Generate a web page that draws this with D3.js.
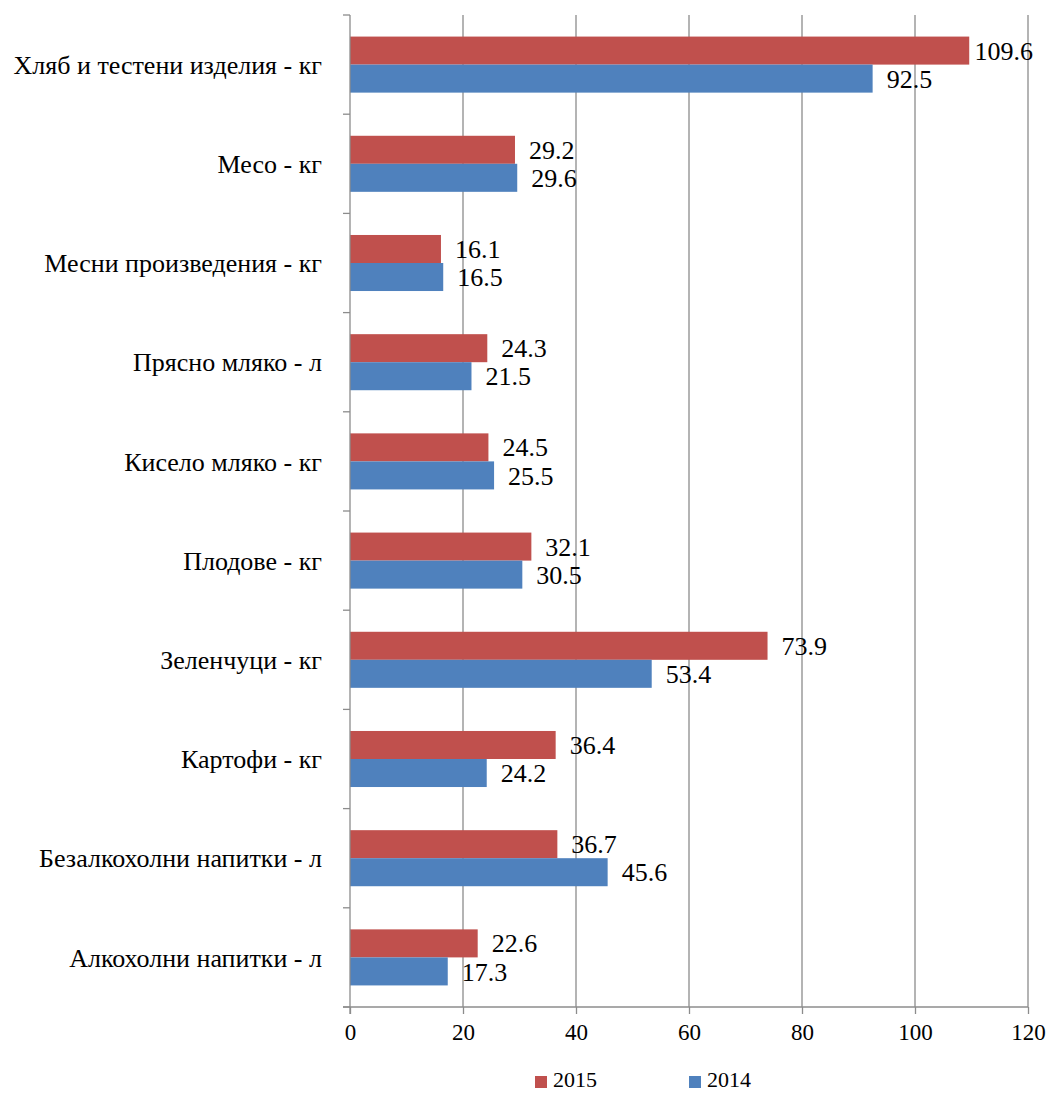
<!DOCTYPE html>
<html>
<head>
<meta charset="utf-8"/>
</head>
<body style="margin:0;background:#fff">
<script src="https://cdn.jsdelivr.net/npm/d3@7"></script>
<script>
var categories = ["Хляб и тестени изделия - кг", "Месо - кг", "Месни произведения  - кг",
  "Прясно мляко - л", "Кисело мляко - кг", "Плодове - кг", "Зеленчуци - кг",
  "Картофи - кг", "Безалкохолни напитки - л", "Алкохолни напитки - л"];
var series = ["2015", "2014"];
var values2015 = [109.6, 29.2, 16.1, 24.3, 24.5, 32.1, 73.9, 36.4, 36.7, 22.6];
var values2014 = [92.5, 29.6, 16.5, 21.5, 25.5, 30.5, 53.4, 24.2, 45.6, 17.3];
var xTicks = [0, 20, 40, 60, 80, 100, 120];
var colors = {"2015": "#c0504d", "2014": "#4f81bd"};

var width = 1050, height = 1093;
var plotL = 350, plotR = 1028, plotT = 15, plotB = 1007;
var serif = "'Liberation Serif'";

var svg = d3.select("body").append("svg")
  .attr("width", width).attr("height", height)
  .style("display", "block");

var x = d3.scaleLinear().domain([0, 120]).range([plotL, plotR]);
var y = d3.scaleBand().domain(categories).range([plotT, plotB]).paddingInner(0.435).paddingOuter(0.2175);
var inner = d3.scaleBand().domain(series).range([0, y.bandwidth()]);

// gridlines
svg.selectAll(".grid").data(xTicks.slice(1)).enter().append("line")
  .attr("x1", d => x(d)).attr("x2", d => x(d))
  .attr("y1", plotT).attr("y2", plotB)
  .attr("stroke", "#8c8c8c").attr("stroke-width", 1.3);

// bars
var flat = [];
categories.forEach(function(c, i) {
  flat.push({cat: c, s: "2015", v: values2015[i]});
  flat.push({cat: c, s: "2014", v: values2014[i]});
});

svg.selectAll(".bar").data(flat).enter().append("rect")
  .attr("x", x(0))
  .attr("y", d => y(d.cat) + inner(d.s))
  .attr("width", d => x(d.v) - x(0))
  .attr("height", inner.bandwidth())
  .attr("fill", d => colors[d.s]);

// labels
svg.selectAll(".lbl").data(flat).enter().append("text")
  .attr("y", d => y(d.cat) + inner(d.s) + inner.bandwidth() / 2)
  .attr("dy", "0.35em")
  .style("font-family", serif)
  .style("font-size", "26px")
  .text(d => d.v.toFixed(1))
  .attr("x", function(d) {
    var w = this.getComputedTextLength();
    return Math.min(x(d.v) + 14, 1033 - w);
  });

// y axis
var yAxisG = svg.append("g");
yAxisG.append("line").attr("x1", plotL).attr("x2", plotL).attr("y1", plotT).attr("y2", plotB + 7)
  .attr("stroke", "#8c8c8c").attr("stroke-width", 1.3);
var step = (plotB - plotT) / categories.length;
d3.range(categories.length + 1).forEach(function(i) {
  yAxisG.append("line").attr("x1", plotL - 7).attr("x2", plotL)
    .attr("y1", plotT + i * step).attr("y2", plotT + i * step)
    .attr("stroke", "#8c8c8c").attr("stroke-width", 1.3);
});
yAxisG.selectAll("text").data(categories).enter().append("text")
  .attr("x", plotL - 28)
  .attr("y", d => y(d) + y.bandwidth() / 2)
  .attr("dy", "0.35em")
  .attr("text-anchor", "end")
  .style("font-family", serif)
  .style("font-size", "26px")
  .text(d => d);

// x axis
var xAxis = d3.axisBottom(x).tickValues(xTicks).tickSize(7).tickPadding(10);
var xg = svg.append("g").attr("transform", "translate(0," + plotB + ")").call(xAxis);
xg.select(".domain").attr("stroke", "#8c8c8c").attr("stroke-width", 1.3).attr("d", "M" + (plotL - 7) + ",0H" + plotR);
xg.selectAll(".tick line").attr("stroke", "#8c8c8c").attr("stroke-width", 1.3);
xg.selectAll(".tick text").attr("fill", "#000")
  .style("font-family", serif).style("font-size", "23px");

// legend
var legendPos = [535, 689];
series.forEach(function(s, i) {
  svg.append("rect").attr("x", legendPos[i]).attr("y", 1076).attr("width", 12).attr("height", 12)
    .attr("fill", colors[s]);
  svg.append("text").attr("x", legendPos[i] + 18).attr("y", 1087)
    .style("font-family", serif).style("font-size", "22px")
    .text(s);
});
</script>
</body>
</html>
